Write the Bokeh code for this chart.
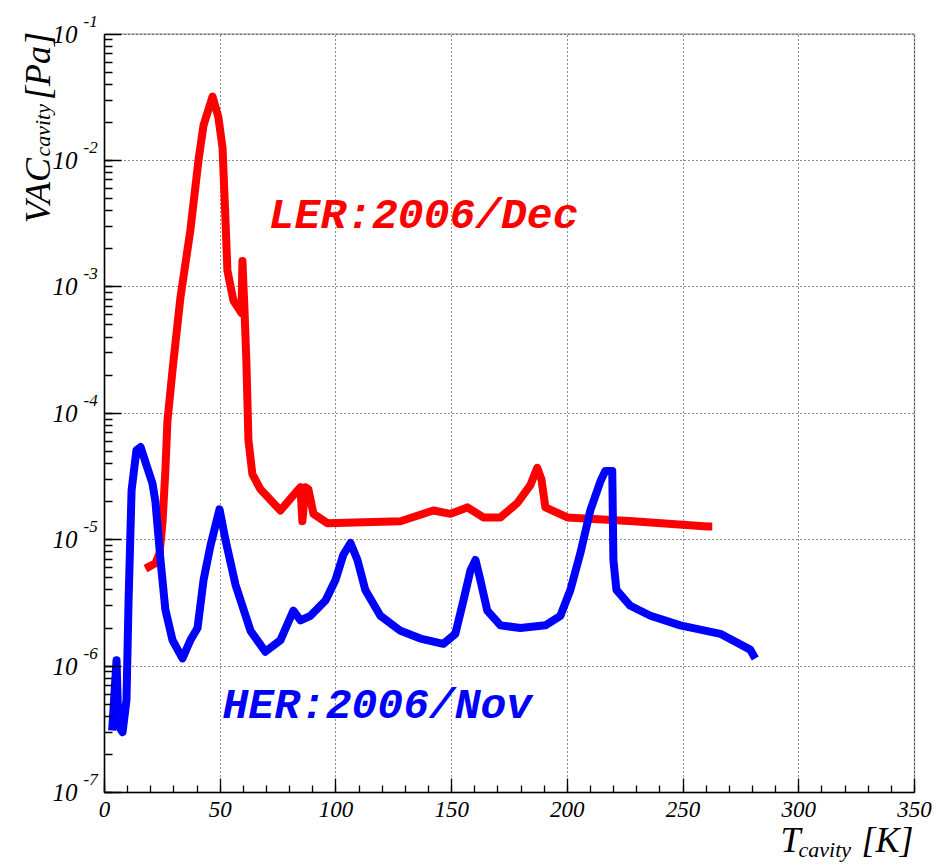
import math
from bokeh.plotting import figure
from bokeh.models import (FixedTicker, Label, Range1d, CustomJSTickFormatter, LinearAxis,
                          LogAxis, Grid, BoxAnnotation)
from bokeh.embed import file_html
from bokeh.resources import INLINE

# ---------------- data ----------------
her_T = [3.3, 5.2, 6.0, 7.8, 9.5, 10.4, 11.7, 13.8, 15.6, 18.1, 20.7, 22.0, 24.2, 26.3,
         29.4, 33.7, 37.1, 40.2, 42.8, 45.8, 49.7, 52.3, 56.6, 63.1, 69.5, 76.0, 81.6,
         84.7, 89.0, 95.5, 99.8, 103.2, 106.3, 109.3, 112.7, 119.2, 127.9, 136.5, 146.4,
         151.6, 155.1, 158.1, 160.3, 162.4, 165.4, 171.1, 179.7, 190.5, 197.0, 201.3,
         205.6, 209.9, 214.3, 216.4, 219.4, 219.9, 221.2, 227.2, 235.9, 248.8, 266.1,
         279.0, 281.2]
her_vac = [3.1e-7, 1.11e-6, 3.4e-7, 3.0e-7, 5.4e-7, 3.3e-6, 2.46e-5, 5.1e-5, 5.4e-5, 3.9e-5,
           2.8e-5, 2.0e-5, 6.9e-6, 2.8e-6, 1.6e-6, 1.15e-6, 1.6e-6, 2.0e-6, 4.8e-6, 9.0e-6,
           1.74e-5, 9.9e-6, 4.4e-6, 1.9e-6, 1.3e-6, 1.6e-6, 2.75e-6, 2.3e-6, 2.5e-6, 3.3e-6,
           4.8e-6, 7.6e-6, 9.4e-6, 6.9e-6, 4.0e-6, 2.5e-6, 1.9e-6, 1.65e-6, 1.5e-6, 1.8e-6,
           3.3e-6, 5.7e-6, 6.9e-6, 4.8e-6, 2.75e-6, 2.1e-6, 2.0e-6, 2.1e-6, 2.5e-6, 4.0e-6,
           7.8e-6, 1.7e-5, 2.9e-5, 3.5e-5, 3.5e-5, 6.9e-6, 4.0e-6, 3.0e-6, 2.5e-6, 2.1e-6,
           1.8e-6, 1.35e-6, 1.15e-6]

ler_T = [17.7, 22.0, 23.8, 25.1, 26.3, 27.2, 29.4, 32.8, 37.1, 40.6, 42.8, 46.7, 49.2, 51.0,
         52.3, 53.1, 55.7, 59.2, 59.6, 60.5, 61.3, 62.2, 63.9, 67.4, 76.0, 81.2, 84.7, 85.5,
         86.8, 88.1, 90.3, 96.3, 127.9, 142.1, 149.5, 156.8, 163.7, 171.1, 178.4, 184.0,
         187.0, 188.8, 190.5, 200.0, 228.5, 260.5, 262.6]
ler_vac = [5.9e-6, 6.5e-6, 7.8e-6, 1.4e-5, 3.5e-5, 8.7e-5, 2.2e-4, 8.2e-4, 2.8e-3, 1.0e-2,
           1.9e-2, 3.2e-2, 2.2e-2, 1.26e-2, 3.3e-3, 1.35e-3, 7.8e-4, 6.2e-4, 1.6e-3, 6.5e-4,
           2.6e-4, 6.1e-5, 3.3e-5, 2.5e-5, 1.7e-5, 2.2e-5, 2.6e-5, 1.4e-5, 2.6e-5, 2.5e-5,
           1.6e-5, 1.35e-5, 1.4e-5, 1.7e-5, 1.6e-5, 1.8e-5, 1.5e-5, 1.5e-5, 1.95e-5, 2.7e-5,
           3.7e-5, 3.0e-5, 1.8e-5, 1.5e-5, 1.4e-5, 1.27e-5, 1.27e-5]

x_min, x_max = 0, 350
y_min, y_max = 1e-7, 1e-1
x_major_ticks = [0, 50, 100, 150, 200, 250, 300, 350]
x_minor_ticks = list(range(0, 351, 10))
y_exponents = [-7, -6, -5, -4, -3, -2, -1]
y_decades = [10.0 ** e for e in y_exponents]
y_minor_ticks = [m * 10.0 ** e for e in y_exponents[:-1] for m in range(1, 10)]

ler_label = "LER:2006/Dec"
her_label = "HER:2006/Nov"
x_title, x_title_sub, x_title_unit = "T", "cavity", "[K]"
y_title, y_title_sub, y_title_unit = "VAC", "cavity", "[Pa]"

# ---------------- layout (pixel calibration of the reference frame) ----------------
W, H = 939, 866
LEFT_PX, RIGHT_PX = 104.0, 914.0          # frame left/right
TOP_PX, BOTTOM_PX = 33.5, 792.0           # frame top/bottom
px_per_x = (RIGHT_PX - LEFT_PX) / (x_max - x_min)
px_per_dec = (BOTTOM_PX - TOP_PX) / (math.log10(y_max) - math.log10(y_min))
x_lo = x_min - LEFT_PX / px_per_x
x_hi = x_max + (W - RIGHT_PX) / px_per_x
y_hi = 10 ** (math.log10(y_max) + TOP_PX / px_per_dec)
y_lo = 10 ** (math.log10(y_min) - (H - BOTTOM_PX) / px_per_dec)

# the frame covers the whole canvas; axes are fixed at the data box edges
p = figure(width=W, height=H, x_range=Range1d(x_lo, x_hi), y_range=Range1d(y_lo, y_hi),
           y_axis_type="log", x_axis_location=None, y_axis_location=None,
           output_backend="svg", toolbar_location=None, min_border=0)
p.title.visible = False
p.grid.visible = False
p.background_fill_color = "white"
p.border_fill_color = "white"
p.outline_line_color = None

serif = "Liberation Serif"

xax = LinearAxis(fixed_location=y_min, bounds=(x_min, x_max),
                 ticker=FixedTicker(ticks=x_major_ticks, minor_ticks=x_minor_ticks))
yax = LogAxis(fixed_location=x_min, bounds=(y_min, y_max),
              ticker=FixedTicker(ticks=y_decades, minor_ticks=y_minor_ticks),
              formatter=CustomJSTickFormatter(code="return '10';"))
p.add_layout(xax, "below")
p.add_layout(yax, "left")

for ax in (xax, yax):
    ax.axis_line_color = "black"
    ax.axis_line_width = 1.5
    ax.major_tick_out = 0
    ax.minor_tick_out = 0
    ax.major_tick_line_color = "black"
    ax.minor_tick_line_color = "black"
    ax.major_tick_line_width = 1.3
    ax.minor_tick_line_width = 1.3
    ax.major_label_text_font = serif
    ax.major_label_text_font_style = "italic"
    ax.major_label_text_color = "black"

xax.major_tick_in = 14
xax.minor_tick_in = 7
xax.major_label_text_font_size = "23px"
xax.major_label_standoff = 9

yax.major_tick_in = 17
yax.minor_tick_in = 8
yax.major_label_text_font_size = "25px"
yax.major_label_standoff = 27

grid_style = dict(grid_line_color="black", grid_line_alpha=0.9, grid_line_width=1,
                  grid_line_dash="1 3")
try:
    gx = Grid(dimension=0, ticker=FixedTicker(ticks=x_major_ticks), bounds=(x_min, x_max),
              cross_bounds=(y_min, y_max), **grid_style)
    gy = Grid(dimension=1, ticker=FixedTicker(ticks=y_decades), bounds=(y_min, y_max),
              cross_bounds=(x_min, x_max), **grid_style)
    p.add_layout(gx)
    p.add_layout(gy)
except Exception:
    seg_style = dict(line_color="black", line_alpha=0.9, line_width=1, line_dash="1 3")
    p.segment(x0=x_major_ticks, y0=[y_min] * len(x_major_ticks), x1=x_major_ticks,
              y1=[y_max] * len(x_major_ticks), **seg_style)
    p.segment(x0=[x_min] * len(y_decades), y0=y_decades, x1=[x_max] * len(y_decades),
              y1=y_decades, **seg_style)

# frame box
p.add_layout(BoxAnnotation(left=x_min, right=x_max, bottom=y_min, top=y_max,
                           fill_alpha=0, line_color="black", line_width=1.5))

# ---------------- curves ----------------
p.line(ler_T, ler_vac, line_color="#ff0000", line_width=8, line_join="round")
p.line(her_T, her_vac, line_color="#0000ff", line_width=8, line_join="round")

# ---------------- texts ----------------
SHIFT = 11  # compensation for the label baseline placement
mono = "Liberation Mono"
p.add_layout(Label(x=71, y=2.97e-3, y_offset=SHIFT, text=ler_label, text_font=mono,
                   text_font_style="bold italic", text_font_size="43px",
                   text_color="#ff0000", text_baseline="alphabetic"))
p.add_layout(Label(x=51, y=3.92e-7, y_offset=SHIFT, text=her_label, text_font=mono,
                   text_font_style="bold italic", text_font_size="43px",
                   text_color="#0000ff", text_baseline="alphabetic"))

# exponents of the y tick labels
for e, v in zip(y_exponents, y_decades):
    p.add_layout(Label(x=x_min, y=v, x_offset=-21, y_offset=13, text=str(e),
                       text_font=serif, text_font_style="italic", text_font_size="17px",
                       text_color="black", text_align="left", text_baseline="alphabetic"))

# y axis title, aligned to the top of the frame
ang = math.pi / 2
ykw = dict(x=x_min, y=y_max, angle=ang, text_font=serif, text_font_style="italic",
           text_align="right", text_baseline="alphabetic", text_color="black")
p.add_layout(Label(x_offset=-56 - SHIFT, y_offset=2, text=y_title_unit,
                   text_font_size="36px", **ykw))
p.add_layout(Label(x_offset=-51 - SHIFT, y_offset=-70, text=y_title_sub,
                   text_font_size="22px", **ykw))
p.add_layout(Label(x_offset=-56 - SHIFT, y_offset=-124, text=y_title,
                   text_font_size="36px", **ykw))

# x axis title, aligned to the right of the frame
xkw = dict(x=x_max, y=y_min, text_font=serif, text_font_style="italic",
           text_baseline="alphabetic", text_color="black")
p.add_layout(Label(x_offset=-1, y_offset=-58 + SHIFT, text=x_title_unit, text_align="right",
                   text_font_size="36px", **xkw))
p.add_layout(Label(x_offset=-116, y_offset=-68 + SHIFT, text=x_title_sub, text_align="left",
                   text_font_size="22px", **xkw))
p.add_layout(Label(x_offset=-134, y_offset=-58 + SHIFT, text=x_title, text_align="left",
                   text_font_size="36px", **xkw))

open("out.html", "w").write(file_html(p, INLINE))
